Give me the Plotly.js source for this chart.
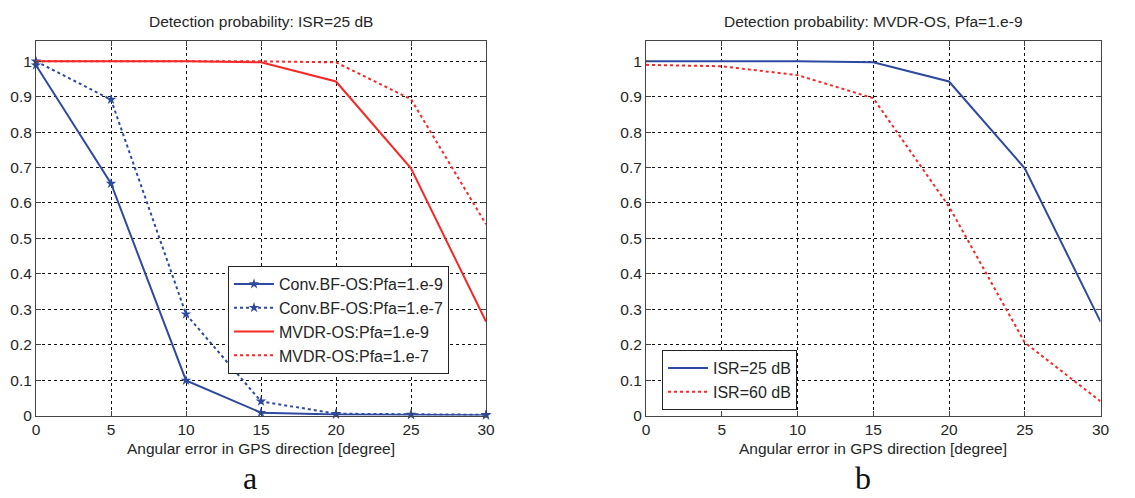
<!DOCTYPE html>
<html>
<head>
<meta charset="utf-8">
<script src="https://cdn.plot.ly/plotly-3.0.1.min.js"></script>
<style>html,body{margin:0;padding:0;background:#fff;}#chart{width:1135px;height:498px;}</style>
</head>
<body>
<div id="chart"></div>
<script>
// Angular error in GPS direction [degree]
var angles = [0, 5, 10, 15, 20, 25, 30];

// Panel a: Detection probability, ISR=25 dB
var convBF_pfa9 = [0.989, 0.655, 0.099, 0.008, 0.003, 0.002, 0.001];
var convBF_pfa7 = [1.0, 0.892, 0.286, 0.040, 0.005, 0.003, 0.002];
var mvdr_pfa9 = [1.0, 1.0, 1.0, 0.997, 0.943, 0.698, 0.265];
var mvdr_pfa7 = [1.0, 1.0, 1.0, 1.0, 0.997, 0.893, 0.540];

// Panel b: Detection probability, MVDR-OS, Pfa=1.e-9
var isr25 = [1.0, 1.0, 1.0, 0.997, 0.943, 0.698, 0.265];
var isr60 = [0.990, 0.986, 0.961, 0.896, 0.590, 0.206, 0.040];

var xTicks = [0, 5, 10, 15, 20, 25, 30];
var yTicks = [0, 0.1, 0.2, 0.3, 0.4, 0.5, 0.6, 0.7, 0.8, 0.9, 1];
var yTickText = ['0', '0.1', '0.2', '0.3', '0.4', '0.5', '0.6', '0.7', '0.8', '0.9', '1'];

var blue = 'rgb(46,74,160)';
var red = 'rgb(246,40,40)';

var traces = [
  {x: angles, y: convBF_pfa9, name: 'Conv.BF-OS:Pfa=1.e-9', xaxis: 'x', yaxis: 'y', legend: 'legend',
   mode: 'lines+markers', line: {color: blue, width: 2}, marker: {symbol: 'star', size: 8, color: blue}, cliponaxis: false},
  {x: angles, y: convBF_pfa7, name: 'Conv.BF-OS:Pfa=1.e-7', xaxis: 'x', yaxis: 'y', legend: 'legend',
   mode: 'lines+markers', line: {color: blue, width: 2, dash: 'dot'}, marker: {symbol: 'star', size: 8, color: blue}, cliponaxis: false},
  {x: angles, y: mvdr_pfa9, name: 'MVDR-OS:Pfa=1.e-9', xaxis: 'x', yaxis: 'y', legend: 'legend',
   mode: 'lines', line: {color: red, width: 2}},
  {x: angles, y: mvdr_pfa7, name: 'MVDR-OS:Pfa=1.e-7', xaxis: 'x', yaxis: 'y', legend: 'legend',
   mode: 'lines', line: {color: red, width: 2, dash: 'dot'}},
  {x: angles, y: isr25, name: 'ISR=25 dB', xaxis: 'x2', yaxis: 'y2', legend: 'legend2',
   mode: 'lines', line: {color: blue, width: 2}},
  {x: angles, y: isr60, name: 'ISR=60 dB', xaxis: 'x2', yaxis: 'y2', legend: 'legend2',
   mode: 'lines', line: {color: red, width: 2, dash: 'dot'}}
];

var sans = 'Liberation Sans, Arial, sans-serif';
var tickFont = {family: sans, size: 15.5, color: '#262626'};
var titleFont = {family: sans, size: 15.5, color: '#262626'};
var legendFont = {family: sans, size: 16, color: '#262626'};

function xAxis(domain, anchor) {
  return {domain: domain, anchor: anchor, range: [0, 30], tickvals: xTicks, ticktext: xTicks.map(String),
    showgrid: true, gridcolor: '#111', gridwidth: 1, griddash: 'dot', zeroline: false,
    showline: true, linecolor: '#444', linewidth: 1, mirror: 'ticks', ticks: 'inside', ticklen: 5, tickcolor: '#444',
    tickfont: tickFont, fixedrange: true, automargin: false};
}
function yAxis(domain, anchor) {
  return {domain: domain, anchor: anchor, range: [0, 1.0565], tickvals: yTicks, ticktext: yTickText,
    showgrid: true, gridcolor: '#111', gridwidth: 1, griddash: 'dot', zeroline: false,
    showline: true, linecolor: '#444', linewidth: 1, mirror: 'ticks', ticks: 'inside', ticklen: 5, tickcolor: '#444',
    tickfont: tickFont, fixedrange: true, automargin: false};
}

var W = 1135, H = 498;
var yDom = [1 - 415.5 / H, 1 - 41.3 / H];

var layout = {
  width: W, height: H,
  margin: {l: 0, r: 0, t: 0, b: 0},
  paper_bgcolor: '#fff', plot_bgcolor: '#fff',
  showlegend: true,
  xaxis: xAxis([36 / W, 486 / W], 'y'),
  yaxis: yAxis(yDom, 'x'),
  xaxis2: xAxis([646 / W, 1100.5 / W], 'y2'),
  yaxis2: yAxis(yDom, 'x2'),
  legend: {x: 228 / W, y: 1 - 266 / H, xanchor: 'left', yanchor: 'top', bgcolor: '#fff',
    bordercolor: '#222', borderwidth: 1, font: legendFont, tracegroupgap: 0, itemwidth: 40},
  legend2: {x: 662 / W, y: 1 - 350 / H, xanchor: 'left', yanchor: 'top', bgcolor: '#fff',
    bordercolor: '#222', borderwidth: 1, font: legendFont, tracegroupgap: 0, itemwidth: 40},
  annotations: [
    {text: 'Detection probability: ISR=25 dB', xref: 'paper', yref: 'paper', x: 261 / W, y: 1 - 22 / H,
     xanchor: 'center', yanchor: 'middle', showarrow: false, font: titleFont},
    {text: 'Detection probability: MVDR-OS, Pfa=1.e-9', xref: 'paper', yref: 'paper', x: 873 / W, y: 1 - 22 / H,
     xanchor: 'center', yanchor: 'middle', showarrow: false, font: titleFont},
    {text: 'Angular error in GPS direction [degree]', xref: 'paper', yref: 'paper', x: 261 / W, y: 1 - 448 / H,
     xanchor: 'center', yanchor: 'middle', showarrow: false, font: titleFont},
    {text: 'Angular error in GPS direction [degree]', xref: 'paper', yref: 'paper', x: 873 / W, y: 1 - 448 / H,
     xanchor: 'center', yanchor: 'middle', showarrow: false, font: titleFont},
    {text: 'a', xref: 'paper', yref: 'paper', x: 250 / W, y: 0,
     xanchor: 'center', yanchor: 'bottom', showarrow: false,
     font: {family: 'Liberation Serif, Times New Roman, serif', size: 32, color: '#111'}},
    {text: 'b', xref: 'paper', yref: 'paper', x: 863 / W, y: 0,
     xanchor: 'center', yanchor: 'bottom', showarrow: false,
     font: {family: 'Liberation Serif, Times New Roman, serif', size: 32, color: '#111'}}
  ]
};

Plotly.newPlot('chart', traces, layout, {displayModeBar: false, staticPlot: true});
</script>
</body>
</html>
